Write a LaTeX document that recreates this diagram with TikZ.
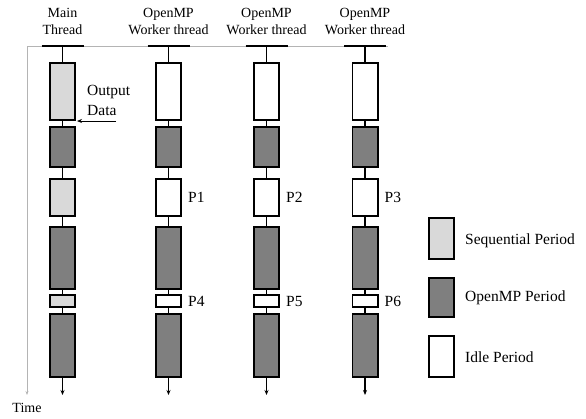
\documentclass[tikz,border=0pt]{standalone}
\usepackage{fontspec}
\setmainfont{Liberation Serif}
\usetikzlibrary{positioning,arrows.meta}
\definecolor{seqgray}{HTML}{D9D9D9}
\definecolor{ompgray}{HTML}{7F7F7F}
\definecolor{axisgray}{HTML}{B4B4B4}
\tikzset{
  period/.style={draw=black,line width=1.6pt,minimum width=25.4pt,inner sep=0pt},
  link/.style={draw=black,line width=1.2pt},
  head/.style={draw=black,line width=1.6pt},
  timeaxis/.style={draw=axisgray,line width=1pt},
  lbl/.style={font=\fontsize{15.5}{20}\selectfont,inner sep=0pt,align=left},
  title/.style={font=\fontsize{14}{17}\selectfont,inner sep=0pt,align=center}
}
\begin{document}
\begin{tikzpicture}[x=1pt,y=-1pt,node distance=10pt]
  \useasboundingbox (0,0) rectangle (586,418);
  \coordinate (origin) at (27,46);
  \coordinate (tend) at (27,395);
  \coordinate (tright) at (388,46);
  \draw[timeaxis] (tright) -- (origin);
  \draw[timeaxis,-{Stealth[length=4pt,width=3pt]}] (origin) -- (tend);
  \node[title] (time) at (27,408) {Time};
  \foreach \c/\x/\ttl in {1/62.5/{Main\\Thread},2/168.5/{OpenMP\\Worker thread},
                          3/266.5/{OpenMP\\Worker thread},4/365/{OpenMP\\Worker thread}} {
    \ifnum\c=1 \def\litecol{seqgray}\else\def\litecol{white}\fi
    \node[title] (ttl\c) at (\x,21.5) {\ttl};
    \coordinate (t\c) at (\x,46);
    \coordinate (e\c) at (\x,395);
    \draw[head] ([xshift=-21pt]t\c) -- ([xshift=21pt]t\c);
    \foreach \i/\y/\h/\fc in {1/91.5/57.4/\litecol,2/147/40.4/ompgray,3/197.5/37.4/\litecol,
                              4/258/62.4/ompgray,5/301/12.4/\litecol,6/345.5/63.4/ompgray}
      \node[period,fill=\fc,minimum height=\h pt] (b\c\i) at (\x,\y) {};
    \draw[link] (t\c) -- (b\c1);
    \foreach \i/\j in {1/2,2/3,3/4,4/5,5/6}
      \draw[link] (b\c\i) -- (b\c\j);
    \draw[link,-{Stealth[length=5pt,width=4pt]}] (b\c6) -- (e\c);
  }
  \foreach \c/\pa/\pb in {2/P1/P4,3/P2/P5,4/P3/P6} {
    \node[lbl,right=6pt of b\c3] (p\c a) {\pa};
    \node[lbl,right=6pt of b\c5] (p\c b) {\pb};
  }
  \node[lbl,anchor=west] (outdata) at (87,100) {Output\\Data};
  \coordinate (odtail) at (116,121);
  \draw[link,line width=1pt,-{Stealth[length=5pt,width=4pt]}] (odtail) -- ([xshift=1pt]b11.south east);
  \node[period,fill=seqgray,minimum height=41.4pt] (legseq) at (441.5,238.5) {};
  \node[period,fill=ompgray,minimum height=39.4pt] (legomp) at (441.5,297.5) {};
  \node[period,fill=white,minimum height=41.4pt] (legidle) at (441.5,356.5) {};
  \node[lbl,right=of legseq,yshift=-2pt] (txtseq) {Sequential Period};
  \node[lbl,right=of legomp] (txtomp) {OpenMP Period};
  \node[lbl,right=of legidle,yshift=-1pt] (txtidle) {Idle Period};
\end{tikzpicture}
\end{document}
